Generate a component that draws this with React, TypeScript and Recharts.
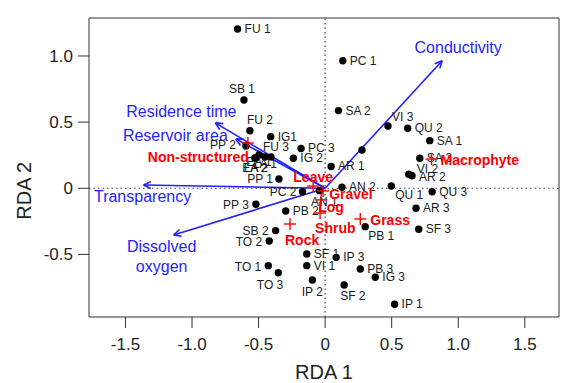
import React from 'react';
import { ScatterChart, Scatter, XAxis, YAxis, ReferenceLine } from 'recharts';

// site scores
const siteNames = [
  'FU 1', 'SB 1', 'FU 2', 'IG1', 'PP 2', 'FU 3', 'EA 1', 'LA 1', 'EA 2', 'LA 2',
  'PC 3', 'IG 2', 'PP 1', 'AR 1', '', 'SA 2', 'PC 1', 'VI 3', 'QU 2', 'SA 1',
  'SA 3', 'VI 2', 'AR 2', 'AN 2', 'QU 1', 'QU 3', 'AR 3', 'SF 3', 'PB 1', 'IP 3',
  'PB 3', 'IG 3', 'SF 2', 'IP 1', 'SF 1', 'VI 1', 'IP 2', 'TO 1', 'TO 3', 'SB 2',
  'TO 2', 'PB 2', 'PP 3', 'PC 2', 'AN 1',
];
const siteRda1 = [
  -0.658, -0.61, -0.565, -0.409, -0.595, -0.407, -0.497, -0.452, -0.528, -0.52,
  -0.181, -0.239, -0.347, 0.045, 0.277, 0.1, 0.133, 0.472, 0.62, 0.786,
  0.711, 0.628, 0.653, 0.126, 0.497, 0.804, 0.683, 0.703, 0.301, 0.083,
  0.264, 0.377, 0.143, 0.522, -0.138, -0.138, -0.096, -0.427, -0.352, -0.372,
  -0.42, -0.296, -0.52, -0.17, -0.043,
];
const siteRda2 = [
  1.204, 0.667, 0.435, 0.39, 0.32, 0.237, 0.252, 0.236, 0.229, 0.229,
  0.301, 0.227, 0.07, 0.165, 0.289, 0.587, 0.964, 0.471, 0.454, 0.36,
  0.227, 0.106, 0.095, 0.008, 0.017, -0.026, -0.151, -0.31, -0.29, -0.522,
  -0.61, -0.673, -0.731, -0.877, -0.497, -0.585, -0.693, -0.585, -0.638, -0.32,
  -0.398, -0.172, -0.121, -0.026, -0.018,
];

// substrate centroids
const substrateNames = ['Non-structured', 'Leave', 'Gravel', 'Log', 'Shrub', 'Rock', 'Grass', 'Macrophyte'];
const substrateRda1 = [-0.58, -0.09, -0.015, -0.03, -0.038, -0.264, 0.264, 0.799];
const substrateRda2 = [0.342, 0.017, -0.02, -0.088, -0.187, -0.27, -0.232, 0.221];

// environmental vectors
const envNames = ['Conductivity', 'Residence time', 'Reservoir area', 'Transparency', 'Dissolved\noxygen'];
const envRda1 = [0.879, -0.825, -0.671, -1.364, -1.138];
const envRda2 = [0.964, 0.494, 0.373, 0.025, -0.353];

const xTicks = [-1.5, -1, -0.5, 0, 0.5, 1, 1.5];
const yTicks = [-0.5, 0, 0.5, 1];
const arrowTopTicks = [-1, 0, 1];
const arrowRightTicks = [0];

const xDomain: [number, number] = [-1.774, 1.757];
const yDomain: [number, number] = [-0.973, 1.287];
const arrowScale = 1.66; // ratio between site axes and the arrow axes (top / right)

// label placement: [dx, dy, anchor]
type Place = [number, number, 's' | 'm' | 'e'];
const siteLabelAt: Record<string, Place> = {
  'SB 1': [-2, -11, 'm'], 'FU 2': [-3, -11, 's'], 'PP 2': [-10, -1, 'e'], 'FU 3': [-8, -10, 's'],
  'EA 1': [0, 7, 'm'], 'LA 1': [0, 7, 'm'], 'EA 2': [0, 10, 'm'], 'LA 2': [0, 10, 'm'],
  'PP 1': [-6, 0, 'e'], 'VI 3': [4, -9, 's'], 'VI 2': [8, -5, 's'], 'AR 2': [7, 1, 's'],
  'QU 1': [4, 9, 's'], 'PB 1': [3, 9, 's'], 'SF 2': [-4, 11, 's'], 'IP 2': [0, 12, 'm'],
  'TO 1': [-7, 1, 'e'], 'TO 3': [5, 12, 'e'], 'SB 2': [-7, 0, 'e'], 'TO 2': [-7, 1, 'e'],
  'PP 3': [-7, 1, 'e'], 'PC 2': [-6, 0, 'e'], 'AN 1': [5, 11, 'm'],
};
const substrateLabelAt: Record<string, Place> = {
  'Non-structured': [1, 14, 'e'], Leave: [0, -9, 'm'], Gravel: [6, 3, 's'], Log: [-3, 7, 's'],
  Shrub: [-5, 15, 's'], Rock: [-5, 16, 's'], Grass: [10, 1, 's'], Macrophyte: [9, 1, 's'],
};
const envLabelAt: Record<string, Place> = {
  Conductivity: [16, -13, 'm'], 'Residence time': [-34, -11, 'm'], 'Reservoir area': [-8, -3, 'e'],
  Transparency: [-1, 12, 'm'], 'Dissolved\noxygen': [-12, 12, 'm'],
};
const anchor = { s: 'start', m: 'middle', e: 'end' } as const;

const sites = siteNames.map((name, i) => ({ name, x: siteRda1[i], y: siteRda2[i] }));
const substrates = substrateNames.map((name, i) => ({ name, x: substrateRda1[i], y: substrateRda2[i] }));
const envs = envNames.map((name, i) => ({ name, x: envRda1[i], y: envRda2[i] }));

const FONT = '"Liberation Sans", Arial, sans-serif';
const BLUE = '#1f1fff';
const RED = '#ff0000';

const SiteDot = (props: any) => {
  const { cx, cy, payload } = props;
  const [dx, dy, a] = siteLabelAt[payload.name] ?? [7, 0, 's'];
  return (
    <g>
      <circle cx={cx} cy={cy} r={3.7} fill="#000" />
      {payload.name && (
        <text x={cx + dx} y={cy + dy} textAnchor={anchor[a]} dominantBaseline="central" fontSize={12} fill="#1a1a1a">
          {payload.name}
        </text>
      )}
    </g>
  );
};

const SubstrateCross = (props: any) => {
  const { cx, cy, payload } = props;
  const [dx, dy, a] = substrateLabelAt[payload.name] ?? [8, 0, 's'];
  return (
    <g>
      <line x1={cx - 6} y1={cy} x2={cx + 6} y2={cy} stroke={RED} strokeWidth={1.4} />
      <line x1={cx} y1={cy - 6} x2={cx} y2={cy + 6} stroke={RED} strokeWidth={1.4} />
      <text x={cx + dx} y={cy + dy} textAnchor={anchor[a]} dominantBaseline="central" fontSize={14} fontWeight="bold" fill={RED}>
        {payload.name}
      </text>
    </g>
  );
};

const envArrow = (name: string) => (p: any) => {
  const { x1, y1, x2, y2 } = p;
  const ang = Math.atan2(y2 - y1, x2 - x1);
  const h = 8;
  const sp = 0.45;
  const [dx, dy, a] = envLabelAt[name] ?? [0, 0, 'm'];
  const lines = name.split('\n');
  return (
    <g>
      <line x1={x1} y1={y1} x2={x2} y2={y2} stroke={BLUE} strokeWidth={1.6} />
      <line x1={x2} y1={y2} x2={x2 - h * Math.cos(ang - sp)} y2={y2 - h * Math.sin(ang - sp)} stroke={BLUE} strokeWidth={1.6} />
      <line x1={x2} y1={y2} x2={x2 - h * Math.cos(ang + sp)} y2={y2 - h * Math.sin(ang + sp)} stroke={BLUE} strokeWidth={1.6} />
      {lines.map((t, i) => (
        <text key={t} x={x2 + dx} y={y2 + dy + i * 19.4} textAnchor={anchor[a]} dominantBaseline="central" fontSize={16} fill={BLUE}>
          {t}
        </text>
      ))}
    </g>
  );
};

const fmt = (v: number) => (v === 0 ? '0' : v.toFixed(1));

export default function App() {
  return (
    <div style={{ fontFamily: FONT }}>
      <style>{'body{margin:0}'}</style>
      <ScatterChart width={567} height={383} margin={{ top: 0, right: 0, bottom: 0, left: 0 }} style={{ fontFamily: FONT }}>
        <XAxis
          xAxisId="top"
          orientation="top"
          type="number"
          domain={[xDomain[0] / arrowScale, xDomain[1] / arrowScale]}
          ticks={arrowTopTicks}
          tick={false}
          tickSize={11}
          height={18}
          stroke="#333"
          allowDataOverflow
        />
        <YAxis
          yAxisId="right"
          orientation="right"
          type="number"
          domain={[yDomain[0] / arrowScale, yDomain[1] / arrowScale]}
          ticks={arrowRightTicks}
          tick={false}
          tickSize={11}
          width={8}
          stroke="#333"
          allowDataOverflow
        />
        <XAxis
          type="number"
          dataKey="x"
          domain={xDomain}
          ticks={xTicks}
          tickFormatter={fmt}
          tickSize={11}
          tickMargin={10}
          height={66}
          stroke="#333"
          tick={{ fontSize: 17, fill: '#222', fontFamily: FONT }}
          allowDataOverflow
          label={{ value: 'RDA 1', position: 'insideBottom', offset: 4, fontSize: 20, fill: '#222', fontFamily: FONT }}
        />
        <YAxis
          type="number"
          dataKey="y"
          domain={yDomain}
          ticks={yTicks}
          tickFormatter={fmt}
          tickSize={11}
          tickMargin={5}
          width={89}
          stroke="#333"
          tick={{ fontSize: 17, fill: '#222', fontFamily: FONT }}
          allowDataOverflow
          label={{
            content: (p: any) => {
              const vb = p.viewBox;
              const cx = vb.x + 24;
              const cy = vb.y + vb.height * 0.578;
              return (
                <text x={cx} y={cy} transform={`rotate(-90 ${cx} ${cy})`} textAnchor="middle" dominantBaseline="central" fontSize={20} fill="#222">
                  RDA 2
                </text>
              );
            },
          }}
        />
        <Scatter xAxisId="top" yAxisId="right" data={[]} isAnimationActive={false} />
        <ReferenceLine x={0} stroke="#444" strokeWidth={1.2} strokeDasharray="1.5 3" />
        <ReferenceLine y={0} stroke="#444" strokeWidth={1.2} strokeDasharray="1.5 3" />
        <Scatter data={sites} shape={SiteDot} isAnimationActive={false} />
        {envs.map((e) => (
          <ReferenceLine
            key={e.name}
            segment={[{ x: 0, y: 0 }, { x: e.x, y: e.y }]}
            stroke={BLUE}
            shape={envArrow(e.name)}
          />
        ))}
        <Scatter data={substrates} shape={SubstrateCross} isAnimationActive={false} />
      </ScatterChart>
    </div>
  );
}
